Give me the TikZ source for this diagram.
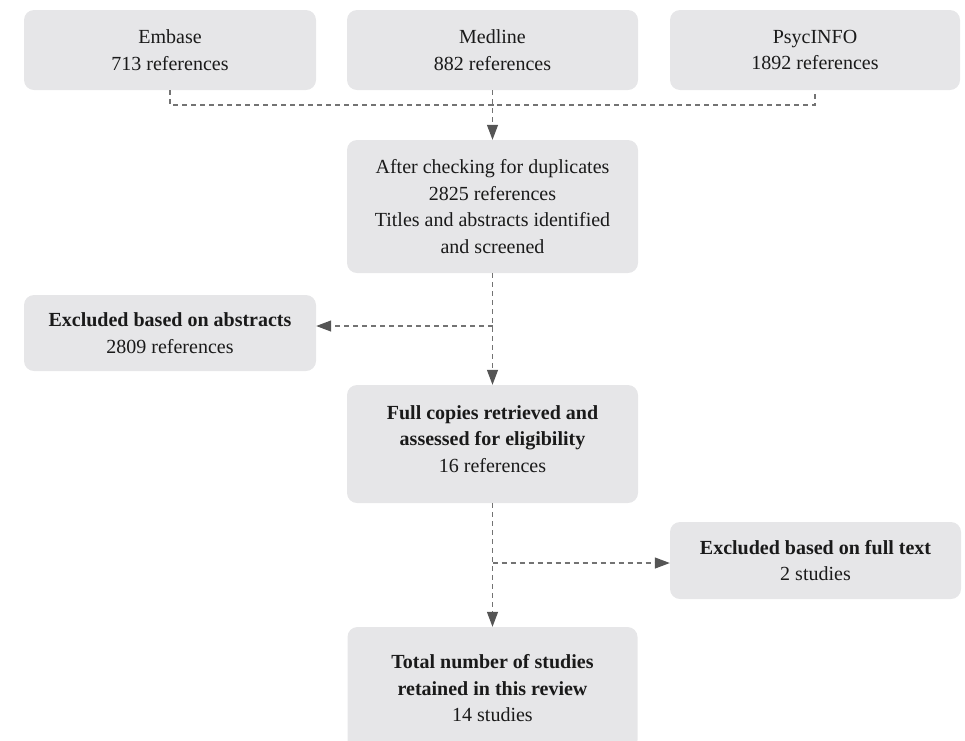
\documentclass[tikz,border=0pt]{standalone}
\usepackage{fontspec}
\setmainfont{Liberation Serif}
\usetikzlibrary{arrows.meta}
\definecolor{boxgray}{HTML}{E6E6E8}
\definecolor{linegray}{HTML}{737373}
\definecolor{tipgray}{HTML}{555555}
\definecolor{txtcol}{HTML}{1A1A1A}
\begin{document}
\begin{tikzpicture}[x=1pt,y=-1pt,
  box/.style={fill=boxgray, rounded corners=10pt, inner sep=0pt, align=center,
              font=\fontsize{20}{26.5}\selectfont, text=txtcol},
  txt/.style={align=center, font=\fontsize{20}{26.5}\selectfont, text=txtcol, inner sep=0pt},
  conn/.style={draw=linegray, line width=1.2pt, dash pattern=on 5pt off 4pt},
  arr/.style={conn, -{Triangle[length=15pt,width=11pt,color=tipgray]}}]
\useasboundingbox (0,0) rectangle (965,740);
\clip (0,0) rectangle (965,740);

\node[box, minimum width=292pt, minimum height=80pt] (embase) at (170,50) {Embase\\713 references};
\node[box, minimum width=291pt, minimum height=80pt] (medline) at (492.5,50) {Medline\\882 references};
\node[box, minimum width=290pt, minimum height=80pt] (psyc) at (815,50) {PsycINFO\\1892 references};

\node[box, minimum width=291pt, minimum height=133pt] (dup) at (492.5,206.5)
  {After checking for duplicates\\2825 references\\Titles and abstracts identified\\and screened};

\node[box, minimum width=292pt, minimum height=76pt] (exabs) at (170,333)
  {\textbf{Excluded based on abstracts}\\2809 references};

\node[box, minimum width=291pt, minimum height=118pt] (full) at (492.5,444) {};
\node[txt] (fullT) at (492.5,439)
  {\textbf{Full copies retrieved and}\\\textbf{assessed for eligibility}\\16 references};

\node[box, minimum width=291pt, minimum height=77pt] (fulltext) at (815.5,560.5)
  {\textbf{Excluded based on full text}\\2 studies};

\node[box, minimum width=290pt, minimum height=123pt] (total) at (492.5,688.5)
  {\textbf{Total number of studies}\\\textbf{retained in this review}\\14 studies};

\coordinate (j1) at (492.5,105);
\draw[conn] (embase.south) |- (j1) -| (psyc.south);
\draw[arr] (medline.south) -- (dup.north);

\coordinate (b1) at (492.5,326);
\draw[arr] (dup.south) -- (full.north);
\draw[arr] (b1) -- (b1 -| exabs.east);

\coordinate (b2) at (492.5,563);
\draw[arr] (full.south) -- (total.north);
\draw[arr] (b2) -- (b2 -| fulltext.west);
\end{tikzpicture}
\end{document}
